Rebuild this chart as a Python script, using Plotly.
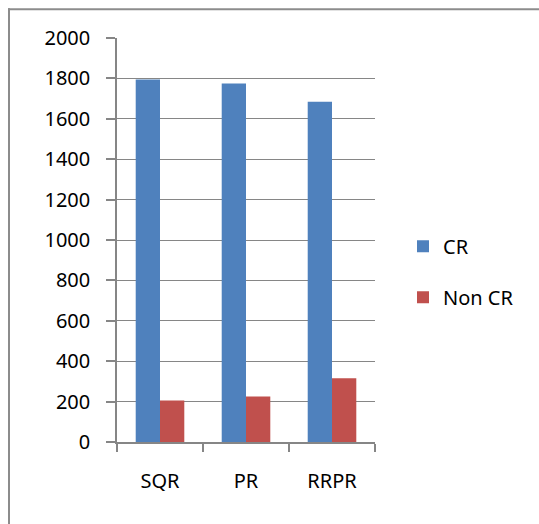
import plotly.graph_objects as go

categories = ["SQR", "PR", "RRPR"]
cr_values = [1795, 1775, 1685]
non_cr_values = [205, 225, 315]
y_ticks = [0, 200, 400, 600, 800, 1000, 1200, 1400, 1600, 1800, 2000]

FONT = "'Noto Sans', 'Open Sans', Calibri, sans-serif"
GRAY = "#868686"

fig = go.Figure()
fig.add_bar(x=categories, y=cr_values, name="CR", marker_color="#4F81BD",
            marker_line_width=0, legendgroup="a")
fig.add_bar(x=categories, y=non_cr_values, name="Non CR", marker_color="#C0504D",
            marker_line_width=0, legendgroup="b")

L, R, T, B = 117, 375, 38.3, 442.3
W, H = 539, 524
pw, ph = R - L, B - T

def px2paper_x(px):
    return (px - L) / pw

def px2paper_y(py):
    return (B - py) / ph

fig.update_layout(
    width=W, height=H,
    margin=dict(l=L, r=W - R, t=T, b=H - B, pad=0),
    paper_bgcolor="white", plot_bgcolor="white",
    font=dict(family=FONT, size=20, color="black"),
    barmode="group", bargap=0.435, bargroupgap=0,
    showlegend=True,
    legend=dict(x=px2paper_x(403), y=px2paper_y(272), xanchor="left", yanchor="middle",
                traceorder="grouped", tracegroupgap=22,
                font=dict(family=FONT, size=20), bgcolor="rgba(0,0,0,0)"),
    xaxis=dict(showline=True, linecolor=GRAY, linewidth=1.5, ticks="outside",
               tickson="boundaries", ticklen=8, tickcolor=GRAY, tickwidth=1.5,
               showgrid=False, ticklabelstandoff=20, fixedrange=True),
    yaxis=dict(range=[0, 2000], tickvals=y_ticks, showline=True, linecolor=GRAY,
               linewidth=1.5, ticks="outside", ticklen=9, tickcolor=GRAY, tickwidth=1.5,
               showgrid=True, gridcolor=GRAY, gridwidth=1.3, zeroline=False,
               ticklabelstandoff=12, fixedrange=True),
)

# chart-area border (only left and top edges are visible in the reference)
fig.add_shape(type="line", xref="paper", yref="paper",
              x0=px2paper_x(9), x1=px2paper_x(9), y0=px2paper_y(H + 20), y1=px2paper_y(8.5),
              line=dict(color="#8c8c8c", width=2), layer="below")
fig.add_shape(type="line", xref="paper", yref="paper",
              x0=px2paper_x(8), x1=px2paper_x(W + 20), y0=px2paper_y(9.5), y1=px2paper_y(9.5),
              line=dict(color="#8c8c8c", width=2), layer="below")

fig.write_html(
    "out.html",
    config={"displayModeBar": False},
    post_script="document.body.style.margin='0';document.body.style.overflow='hidden';",
)
